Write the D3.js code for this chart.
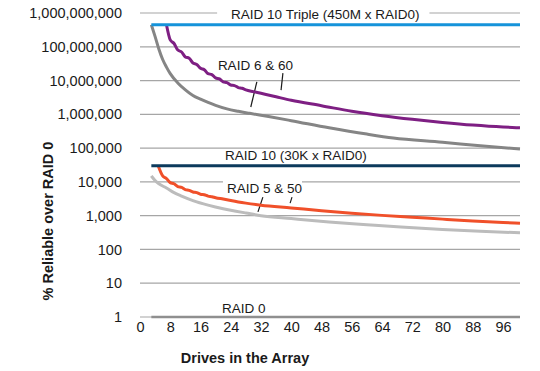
<!DOCTYPE html>
<html>
<head>
<meta charset="utf-8">
<script src="https://cdn.jsdelivr.net/npm/d3@7"></script>
<style>
  body { margin: 0; background: #fff; }
  text { font-family: "Liberation Sans", Arial, sans-serif; fill: #1a1a1a; }
</style>
</head>
<body>
<div id="main"></div>
<script>
const ctx = {
    w: 540,
    h: 371,
    font: "'Liberation Sans', Arial, sans-serif",
};

// values
const yTicks = [1, 10, 100, 1e3, 1e4, 1e5, 1e6, 1e7, 1e8, 1e9];
const xTicks = [0, 8, 16, 24, 32, 40, 48, 56, 64, 72, 80, 88, 96];

const raid10Triple = [[3, 4.5e8], [100.5, 4.5e8]];
const raid10 = [[3, 3e4], [100.5, 3e4]];
const raid0 = [[3, 1], [100.5, 1]];

const raid6Drives = [7, 8, 9, 10, 11, 12, 13, 14, 15, 16, 17, 18, 19, 20, 21, 22, 23, 24, 25, 26, 27, 28, 30, 32, 36, 40, 48, 56, 64, 72, 80, 88, 96, 100.5];
const raid6Values = [4.5e8, 1.6e8, 1.25e8, 8.0e7, 7.0e7, 5.0e7, 4.6e7, 3.3e7, 3.0e7, 2.3e7, 2.1e7, 1.6e7, 1.5e7, 1.2e7, 1.12e7, 9.2e6, 8.7e6, 7.4e6, 7.1e6, 6.2e6, 5.9e6, 5.3e6, 4.7e6, 4.2e6, 3.3e6, 2.6e6, 1.8e6, 1.23e6, 9.1e5, 7.1e5, 5.75e5, 4.8e5, 4.2e5, 4.0e5];

const grayHiDrives = [3, 4, 5, 6, 7, 8, 10, 12, 14, 16, 18, 20, 23, 26, 29, 34, 40, 50, 60, 67, 80, 90, 100.5];
const grayHiValues = [4.5e8, 2.0e8, 8.5e7, 4.2e7, 2.5e7, 1.6e7, 8.5e6, 5.3e6, 3.6e6, 2.8e6, 2.25e6, 1.85e6, 1.45e6, 1.23e6, 1.07e6, 8.6e5, 6.5e5, 4.0e5, 2.6e5, 2.0e5, 1.5e5, 1.17e5, 9.4e4];

const raid5Drives = [4.8, 6, 7, 8, 9, 10, 11, 12, 13, 14, 15, 16, 17, 18, 19, 20, 22, 24, 26, 28, 32, 40, 48, 56, 64, 72, 80, 88, 96, 100.5];
const raid5Values = [3.0e4, 1.5e4, 1.25e4, 9.5e3, 8.8e3, 7.3e3, 6.9e3, 5.9e3, 5.6e3, 5.0e3, 4.8e3, 4.3e3, 4.15e3, 3.8e3, 3.65e3, 3.4e3, 3.1e3, 2.8e3, 2.55e3, 2.35e3, 2.05e3, 1.7e3, 1.4e3, 1.18e3, 1.02e3, 900, 790, 700, 630, 600];

const grayLoDrives = [3, 4, 5, 7, 9, 11, 14, 18, 22, 25, 28, 32, 40, 50, 60, 69, 80, 90, 100.5];
const grayLoValues = [1.5e4, 1.1e4, 8.8e3, 6.6e3, 4.8e3, 3.8e3, 2.8e3, 2.05e3, 1.6e3, 1.38e3, 1.2e3, 1.0e3, 820, 650, 540, 460, 390, 345, 310];

function zip(xs, ys) {
    return xs.map((x, i) => [x, ys[i]]);
}

function createChart(svg) {
    const x = d3.scaleLinear().domain([0, 100.5]).range([140, 520]);
    const y = d3.scaleLog().domain([1, 1e9]).range([317, 13]);

    // gridlines
    svg.append("g")
        .selectAll("line")
        .data(yTicks)
        .enter()
        .append("line")
        .attr("x1", x(0))
        .attr("x2", x(100.5))
        .attr("y1", d => y(d))
        .attr("y2", d => y(d))
        .style("stroke", "#a6a6a6")
        .style("stroke-width", 1.2);

    // axes, no domain line
    const yAxis = svg.append("g")
        .attr("transform", `translate(${x(0)},0)`)
        .call(d3.axisLeft(y).tickValues(yTicks).tickFormat(d3.format(",")).tickSize(0).tickPadding(18));
    const xAxis = svg.append("g")
        .attr("transform", `translate(0,${y(1)})`)
        .call(d3.axisBottom(x).tickValues(xTicks).tickSize(0).tickPadding(5));
    [yAxis, xAxis].forEach(a => {
        a.attr("font-family", ctx.font);
        a.select(".domain").remove();
        a.selectAll("text").style("font-size", "14.5px").style("fill", "#1a1a1a")
            .style("font-family", ctx.font);
    });

    svg.append("text")
        .attr("x", 245).attr("y", 363)
        .attr("text-anchor", "middle")
        .style("font-size", "14.5px").style("font-weight", "bold")
        .text("Drives in the Array");
    svg.append("text")
        .attr("transform", "translate(53,221) rotate(-90)")
        .attr("text-anchor", "middle")
        .style("font-size", "14.5px").style("font-weight", "bold")
        .text("% Reliable over RAID 0");

    // labels (some sit on a white patch that breaks the gridline)
    const labels = [
        { t: "RAID 10 Triple (450M x RAID0)", d: 24.1, v: 6.6e8, bg: [14, 10] },
        { t: "RAID 6 & 60", d: 20.6, v: 2.0e7 },
        { t: "RAID 10 (30K x RAID0)", d: 22.5, v: 4.4e4 },
        { t: "RAID 5 & 50", d: 23.0, v: 4.7e3, bg: [4, 0] },
        { t: "RAID 0", d: 21.7, v: 1.3 },
    ];
    const lg = svg.append("g");
    labels.forEach(l => {
        const g = lg.append("g");
        const txt = g.append("text")
            .attr("x", x(l.d)).attr("y", y(l.v))
            .style("font-size", "13.5px")
            .text(l.t);
        if (l.bg) {
            const b = txt.node().getBBox();
            g.insert("rect", "text")
                .attr("x", b.x - l.bg[0]).attr("y", b.y)
                .attr("width", b.width + l.bg[0] + l.bg[1]).attr("height", b.height - 3)
                .style("fill", "#fff");
        }
    });

    // leader lines
    const leaders = [
        [[30.9, 9.1e6], [29.3, 1.65e6]],
        [[37.8, 1.66e7], [37.3, 5.2e6]],
        [[32.5, 3.55e3], [31.2, 1.3e3]],
        [[40.2, 3.55e3], [39.7, 2.35e3]],
    ];
    svg.append("g")
        .selectAll("line")
        .data(leaders)
        .enter()
        .append("line")
        .attr("x1", d => x(d[0][0])).attr("y1", d => y(d[0][1]))
        .attr("x2", d => x(d[1][0])).attr("y2", d => y(d[1][1]))
        .style("stroke", "#1a1a1a").style("stroke-width", 1.2);

    // series
    const line = d3.line()
        .x(d => x(d[0]))
        .y(d => y(d[1]))
        .curve(d3.curveMonotoneX);
    const series = [
        { data: raid0, color: "#8f8f8f", w: 2.5 },
        { data: zip(grayLoDrives, grayLoValues), color: "#bcbcbc", w: 3 },
        { data: zip(grayHiDrives, grayHiValues), color: "#858585", w: 3 },
        { data: zip(raid5Drives, raid5Values), color: "#f0502a", w: 3 },
        { data: zip(raid6Drives, raid6Values), color: "#7e1f83", w: 3 },
        { data: raid10, color: "#0c3a5c", w: 3 },
        { data: raid10Triple, color: "#1593da", w: 3 },
    ];
    svg.append("g")
        .selectAll("path")
        .data(series)
        .enter()
        .append("path")
        .attr("d", d => line(d.data))
        .style("fill", "none")
        .style("stroke", d => d.color)
        .style("stroke-width", d => d.w);
}

function createViz() {
    let svgEl = d3.select("#main").append("svg");
    svgEl.attr("width", ctx.w);
    svgEl.attr("height", ctx.h);
    createChart(svgEl);
}

createViz();
</script>
</body>
</html>
